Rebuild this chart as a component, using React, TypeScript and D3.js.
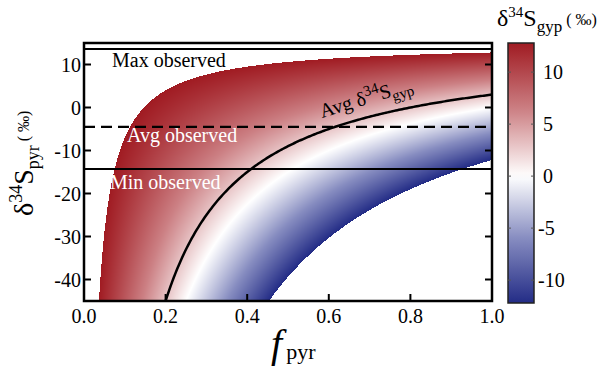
import { useMemo } from 'react';
import * as d3 from 'd3';

// axes / ticks
const X_TICKS = [0, 0.2, 0.4, 0.6, 0.8, 1.0];
const Y_TICKS = [10, 0, -10, -20, -30, -40];
const CB_TICKS = [10, 5, 0, -5, -10];
const F_DOMAIN: [number, number] = [0, 1];
const PYR_DOMAIN: [number, number] = [-45, 15];
const GYP_DOMAIN: [number, number] = [-12.2, 12.8];

// mass balance: d34S_gyp = f*d34S_pyr + (1-f)*d34S_in
const D34S_IN = 15;
const AVG_GYP = 3;

// observed d34S_pyr values
const OBS_VALUES = [13.6, -4.5, -14.3];
const OBS_LABELS = ['Max observed', 'Avg observed', 'Min observed'];
const OBS_DASHED = [false, true, false];

// colour stops for d34S_gyp
const CMAP_VALUES = [-12.2, -6, 0, 6.4, 12.8];
const CMAP_COLORS = ['#232c86', '#868cc0', '#ffffff', '#cc8084', '#a01b22'];

const FONT = '"Liberation Serif", "Times New Roman", serif';

export default function App() {
  const W = 606, H = 367;
  const left = 84, right = 492, top = 43, bottom = 301;

  const x = d3.scaleLinear().domain(F_DOMAIN).range([left, right]);
  const y = d3.scaleLinear().domain(PYR_DOMAIN).range([bottom, top]);
  const cbY = d3.scaleLinear().domain(GYP_DOMAIN).range([303, 43]);
  const color = d3.scaleLinear<string>()
    .domain(CMAP_VALUES)
    .range(CMAP_COLORS)
    .interpolate(d3.interpolateRgb);

  // raster of the d34S_gyp field
  const href = useMemo(() => {
    const cw = right - left, ch = bottom - top;
    const canvas = document.createElement('canvas');
    canvas.width = cw; canvas.height = ch;
    const ctx = canvas.getContext('2d');
    if (!ctx) return '';
    const img = ctx.createImageData(cw, ch);
    for (let j = 0; j < ch; j++) {
      const p = y.invert(top + j + 0.5);
      for (let i = 0; i < cw; i++) {
        const f = x.invert(left + i + 0.5);
        const g = f * p + (1 - f) * D34S_IN;
        if (g < GYP_DOMAIN[0] || g > GYP_DOMAIN[1]) continue;
        const c = d3.rgb(color(g));
        const k = (j * cw + i) * 4;
        img.data[k] = c.r; img.data[k + 1] = c.g; img.data[k + 2] = c.b; img.data[k + 3] = 255;
      }
    }
    ctx.putImageData(img, 0, 0);
    return canvas.toDataURL();
  }, []);

  // average gypsum contour
  const fStart = (D34S_IN - AVG_GYP) / (D34S_IN - PYR_DOMAIN[0]);
  const fs = d3.range(0, 201).map(i => fStart + (1 - fStart) * i / 200);
  const avgLine = d3.line<number>()
    .x(f => x(f))
    .y(f => y((AVG_GYP - (1 - f) * D34S_IN) / f))(fs) || '';

  const gradStops = d3.range(0, 41).map(i => {
    const v = GYP_DOMAIN[0] + (GYP_DOMAIN[1] - GYP_DOMAIN[0]) * i / 40;
    return { off: `${(i / 40) * 100}%`, c: color(v) };
  });

  const labelPos = [
    { x: 112, y: 67, fill: '#000' },
    { x: 127, y: 142, fill: '#fff' },
    { x: 110, y: 189, fill: '#fff' },
  ];

  return (
    <svg width={W} height={H} style={{ position: 'absolute', left: 0, top: 0, background: '#fff' }}
      fontFamily={FONT}>
      <defs>
        <linearGradient id="cbgrad" x1="0" y1="1" x2="0" y2="0">
          {gradStops.map((s, i) => <stop key={i} offset={s.off} stopColor={s.c} />)}
        </linearGradient>
        <clipPath id="plotclip">
          <rect x={left} y={top} width={right - left} height={bottom - top} />
        </clipPath>
      </defs>

      {href && <image href={href} x={left} y={top} width={right - left} height={bottom - top} />}

      {/* avg gypsum curve */}
      <path d={avgLine} fill="none" stroke="#000" strokeWidth={2.5} clipPath="url(#plotclip)" />

      {/* observed lines */}
      {OBS_VALUES.map((v, i) => (
        <line key={i} x1={left} x2={right} y1={y(v)} y2={y(v)} stroke="#000" strokeWidth={2.2}
          strokeDasharray={OBS_DASHED[i] ? '11,6' : undefined} />
      ))}
      {OBS_LABELS.map((t, i) => (
        <text key={i} x={labelPos[i].x} y={labelPos[i].y} fontSize={20} fill={labelPos[i].fill}>{t}</text>
      ))}

      {/* curve label */}
      <text transform="translate(322,118) rotate(-17)" fontSize={20} fill="#000">
        Avg δ<tspan fontSize={15} dy={-8}>34</tspan><tspan dy={8}>S</tspan><tspan fontSize={15} dy={5}>gyp</tspan>
      </text>

      {/* frame */}
      <rect x={left} y={top} width={right - left} height={bottom - top} fill="none" stroke="#000" strokeWidth={2.5} />

      {/* ticks */}
      {X_TICKS.map(t => (
        <g key={t}>
          <line x1={x(t)} x2={x(t)} y1={bottom} y2={bottom - 7} stroke="#000" strokeWidth={2} />
          <text x={x(t)} y={323} fontSize={20} textAnchor="middle">{t.toFixed(1)}</text>
        </g>
      ))}
      {Y_TICKS.map(t => (
        <g key={t}>
          <line x1={left} x2={left + 7} y1={y(t)} y2={y(t)} stroke="#000" strokeWidth={2} />
          <line x1={right} x2={right - 7} y1={y(t)} y2={y(t)} stroke="#000" strokeWidth={2} />
          <text x={81} y={y(t)} dy="0.35em" fontSize={20} textAnchor="end">{t}</text>
        </g>
      ))}

      {/* axis titles */}
      <text x={271} y={357} fontSize={40} fontStyle="italic">f<tspan fontStyle="normal" fontSize={22} dy={2} dx={4}>pyr</tspan></text>
      <text transform="translate(33,216) rotate(-90)" fontSize={28}>
        δ<tspan fontSize={18} dy={-11}>34</tspan><tspan dy={11}>S</tspan><tspan fontSize={18} dy={6}>pyr</tspan><tspan fontSize={16} dy={-10}> ( ‰)</tspan>
      </text>

      {/* colorbar */}
      <rect x={508} y={43} width={26} height={260} fill="url(#cbgrad)" stroke="#222" strokeWidth={1.5} />
      {CB_TICKS.map(t => (
        <g key={t}>
          <line x1={508} x2={511} y1={cbY(t)} y2={cbY(t)} stroke="#555" strokeWidth={1} />
          <line x1={531} x2={534} y1={cbY(t)} y2={cbY(t)} stroke="#555" strokeWidth={1} />
          <text x={t < 0 ? 538 : 543} y={cbY(t)} dy="0.35em" fontSize={20}>{t}</text>
        </g>
      ))}
      <text x={497} y={26} fontSize={24}>
        δ<tspan fontSize={15} dy={-9}>34</tspan><tspan dy={9}>S</tspan><tspan fontSize={17} dy={6}>gyp</tspan><tspan fontSize={16} dy={-7}> ( ‰)</tspan>
      </text>
    </svg>
  );
}
